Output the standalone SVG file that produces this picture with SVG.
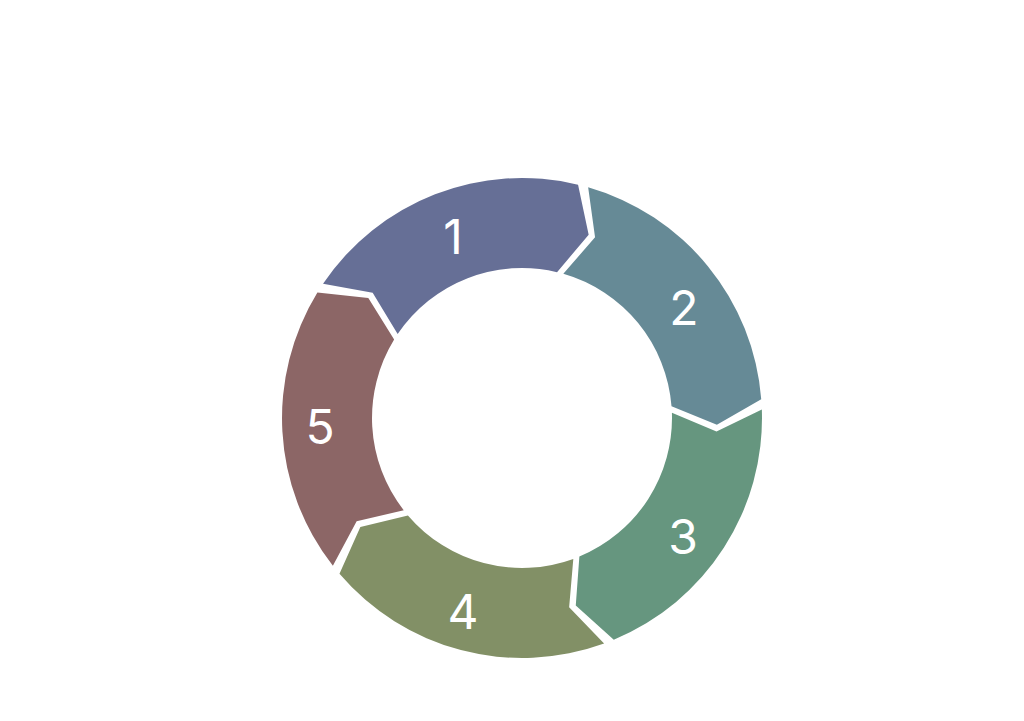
<svg xmlns="http://www.w3.org/2000/svg" width="1024" height="721" viewBox="0 0 1024 721">
<style>
.lbl{font-family:"Open Sans","Liberation Sans",sans-serif;font-size:27px;fill:#ffffff;text-anchor:middle}
.num{font-family:Inter,"Liberation Sans",sans-serif;font-size:48px;fill:#ffffff;text-anchor:middle}
</style>
<defs>
<path id="seg" d="M0,-240 A240,240 0 0 1 224.8,-84.0 L189.2,-47.2 L140.5,-52.5 A150,150 0 0 0 0,-150 L20.4,-193.9 Z" stroke-linejoin="round"/>
</defs>
<rect width="1024" height="721" fill="#ffffff"/>
<text x="507" y="108" font-family="Liberation Sans, sans-serif" font-size="50" fill="#ffffff" text-anchor="middle" textLength="920" lengthAdjust="spacingAndGlyphs">THE WAY TO BECOME TEST WINNER</text>
<g id="connectors"/>
<g id="node1"><use href="#seg" transform="translate(522,418) rotate(-56)" fill="#666f96"/><text class="num" x="453" y="254">1</text><text class="lbl" x="240" y="204">Quality &amp; Fit</text></g>
<g id="node2"><use href="#seg" transform="translate(522,418) rotate(16)" fill="#668a96"/><text class="num" x="684" y="325">2</text><text class="lbl" x="838" y="238">Transparency &amp;</text><text class="lbl" x="838" y="273">independent</text><text class="lbl" x="838" y="308">test results</text></g>
<g id="node3"><use href="#seg" transform="translate(522,418) rotate(88)" fill="#66967f"/><text class="num" x="683" y="554">3</text><text class="lbl" x="825" y="553">Customer</text><text class="lbl" x="825" y="588">satisfaction</text></g>
<g id="node4"><use href="#seg" transform="translate(522,418) rotate(160)" fill="#829066"/><text class="num" x="463" y="629">4</text><text class="lbl" x="310" y="676">Communication</text></g>
<g id="node5"><use href="#seg" transform="translate(522,418) rotate(232)" fill="#8c6666"/><text class="num" x="320" y="444">5</text><text class="lbl" x="165" y="420">Continuous</text><text class="lbl" x="165" y="455">improvement</text></g>
</svg>
